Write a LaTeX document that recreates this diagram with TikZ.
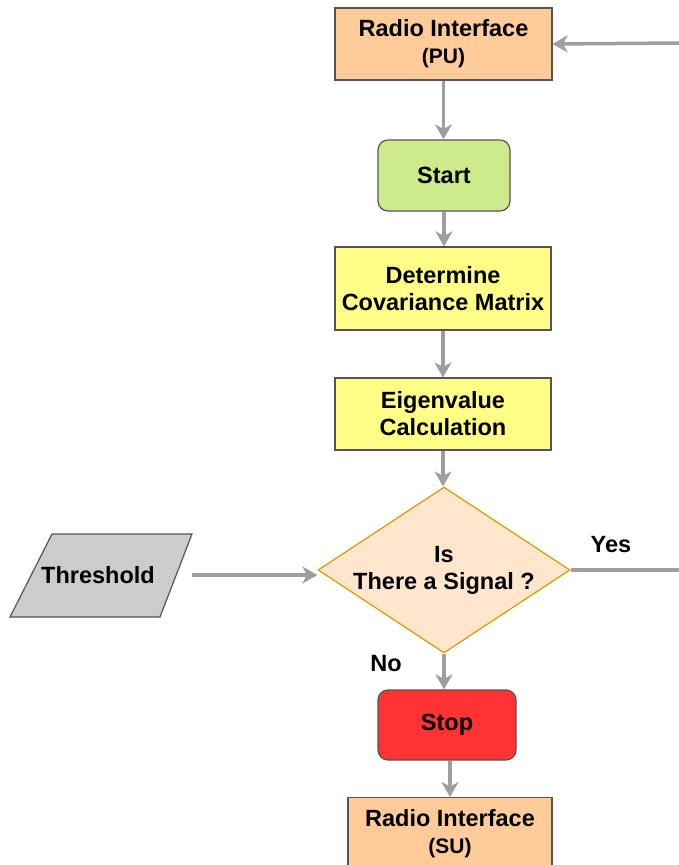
\documentclass[tikz,border=0pt]{standalone}
\usepackage{fontspec}
\setmainfont{Liberation Sans}
\usetikzlibrary{arrows.meta,shapes.geometric}

\definecolor{peach}{HTML}{FFCC99}
\definecolor{lime}{HTML}{CDEB8B}
\definecolor{paleyellow}{HTML}{FFFF88}
\definecolor{sand}{HTML}{FFE6CC}
\definecolor{sandedge}{HTML}{D79B00}
\definecolor{stopred}{HTML}{FF3333}
\definecolor{inputgray}{HTML}{CCCCCC}
\definecolor{edgegray}{HTML}{555555}
\definecolor{flowgray}{HTML}{9E9E9E}

\tikzset{
  lbl/.style={font=\bfseries\fontsize{23.5}{27}\selectfont, align=center},
  box/.style={lbl, draw=edgegray, line width=1.2pt, inner sep=0pt},
  procbox/.style={box, minimum width=216pt},
  termbox/.style={box, rounded corners=10pt},
  flow/.style={draw=flowgray, line width=3.5pt,
    -{Stealth[length=15pt,width=17pt,inset=4.5pt]}},
  plain/.style={draw=flowgray, line width=3.5pt}
}

\begin{document}
\begin{tikzpicture}[x=1pt,y=-1pt]
  \useasboundingbox[fill=white] (0,0) rectangle (679,865);

  % main column of the flowchart
  \node[procbox, fill=peach, minimum width=217pt, minimum height=72pt] (pu) at (443.5,44)
    {Radio Interface\\{\fontsize{21}{27}\selectfont (PU)}};
  \node[termbox, fill=lime, minimum width=132pt, minimum height=71pt] (start) at (444,175.5) {Start};
  \node[procbox, fill=paleyellow, minimum height=83pt] (cov) at (443,288.5)
    {Determine\\Covariance Matrix};
  \node[procbox, fill=paleyellow, minimum height=72pt] (eig) at (443,414)
    {Eigenvalue\\Calculation};
  \node[lbl, diamond, draw=sandedge, line width=1.2pt, fill=sand, inner sep=0pt,
        minimum width=252pt, minimum height=166pt] (dec) at (444,570)
    {\raisebox{-7pt}[0pt][0pt]{\makebox[0pt]{\begin{tabular}{@{}c@{}}Is\\There a Signal ?\end{tabular}}}};
  \node[termbox, fill=stopred, minimum width=138pt, minimum height=70pt] (stop) at (447,725) {Stop};
  \node[procbox, fill=peach, minimum width=204pt, minimum height=72pt, anchor=north] (su) at (450,797)
    {Radio Interface\\{\fontsize{21}{27}\selectfont (SU)}};

  % threshold input
  \draw[draw=edgegray, line width=1.2pt, fill=inputgray]
    (52,534) -- (192,534) -- (160,617) -- (10,617) -- cycle;
  \node[lbl] (thr) at (98,575) {Threshold};
  \coordinate (throut) at (192,575);

  % loose ends at the right margin
  \coordinate (feedin) at (679,43);
  \coordinate (yesout) at (679,570);

  % connectors
  \draw[flow] (feedin) -- (pu.east);
  \draw[flow] (pu.south) -- (pu.south |- start.north);
  \draw[flow] (start.south) -- (start.south |- cov.north);
  \draw[flow] (cov.south) -- (eig.north);
  \draw[flow] (eig.south) -- (eig.south |- dec.north);
  \draw[flow] (throut) -- (throut -| dec.west);
  \draw[plain] (dec.east) -- (yesout);
  \draw[flow] (dec.south) -- (dec.south |- stop.north);
  \draw[flow] (su.north |- stop.south) -- (su.north);

  % branch labels
  \node[lbl] (yes) at (611,545) {Yes};
  \node[lbl] (no) at (386,664) {No};
\end{tikzpicture}
\end{document}
